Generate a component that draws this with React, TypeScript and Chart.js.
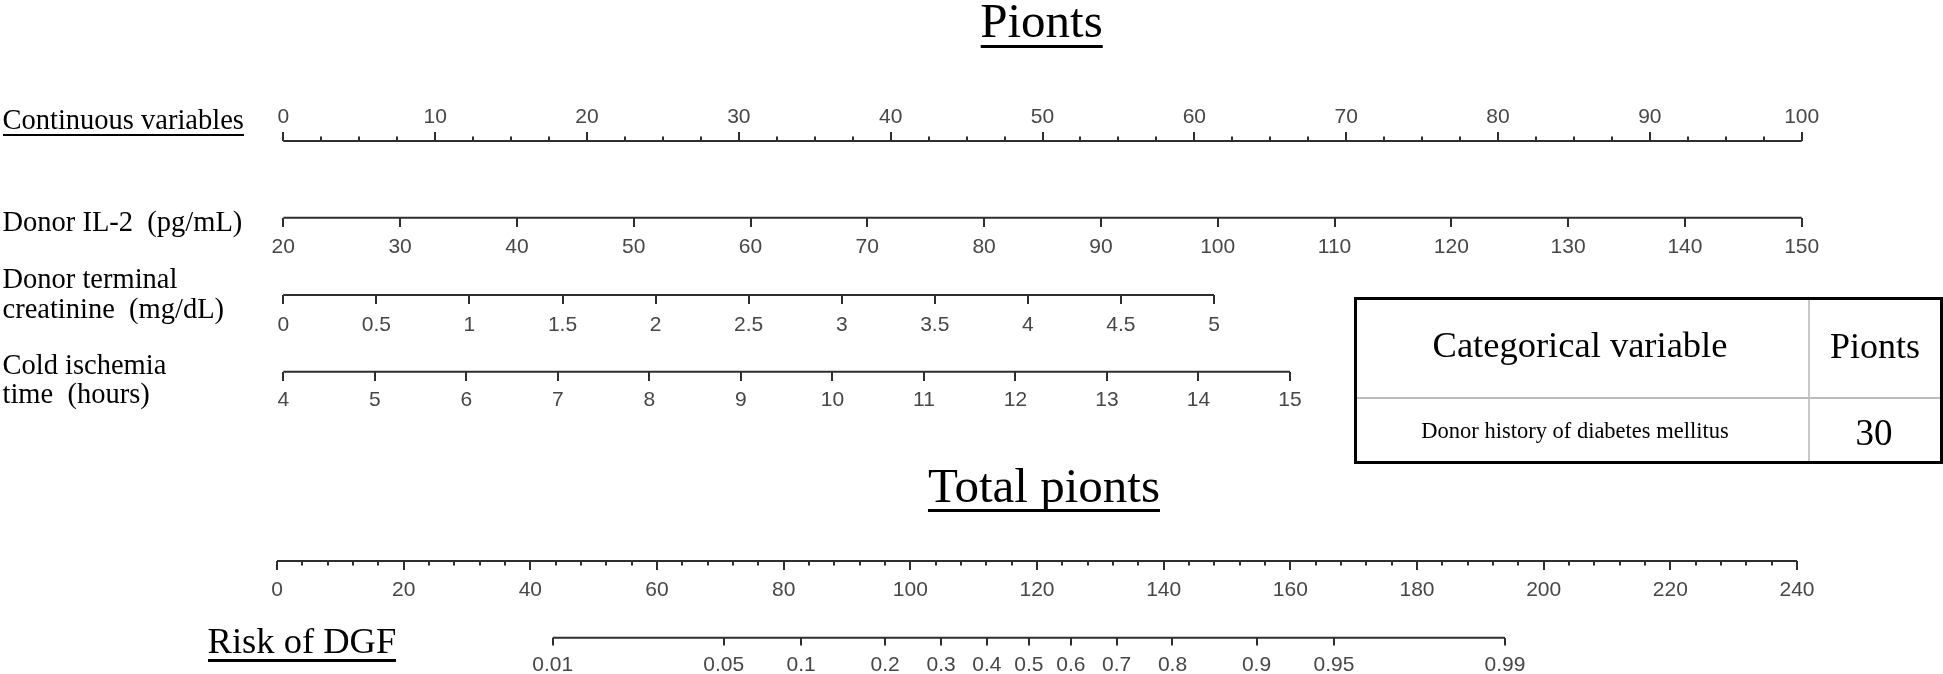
import React, { useEffect, useRef } from 'react';
import { Chart, registerables } from 'chart.js';

Chart.register(...registerables);

// ---------------- data ----------------
const pointsMajorTicks = [0, 10, 20, 30, 40, 50, 60, 70, 80, 90, 100];
const pointsMinorTicks = [0, 2.5, 5, 7.5, 10, 12.5, 15, 17.5, 20, 22.5, 25, 27.5, 30, 32.5, 35, 37.5, 40, 42.5, 45, 47.5, 50, 52.5, 55, 57.5, 60, 62.5, 65, 67.5, 70, 72.5, 75, 77.5, 80, 82.5, 85, 87.5, 90, 92.5, 95, 97.5, 100];
const il2Ticks = [20, 30, 40, 50, 60, 70, 80, 90, 100, 110, 120, 130, 140, 150];
const creatinineTicks = [0, 0.5, 1, 1.5, 2, 2.5, 3, 3.5, 4, 4.5, 5];
const coldIschemiaTicks = [4, 5, 6, 7, 8, 9, 10, 11, 12, 13, 14, 15];
const totalMajorTicks = [0, 20, 40, 60, 80, 100, 120, 140, 160, 180, 200, 220, 240];
const totalMinorTicks = [0, 4, 8, 12, 16, 20, 24, 28, 32, 36, 40, 44, 48, 52, 56, 60, 64, 68, 72, 76, 80, 84, 88, 92, 96, 100, 104, 108, 112, 116, 120, 124, 128, 132, 136, 140, 144, 148, 152, 156, 160, 164, 168, 172, 176, 180, 184, 188, 192, 196, 200, 204, 208, 212, 216, 220, 224, 228, 232, 236, 240];
const riskTicks = [0.01, 0.05, 0.1, 0.2, 0.3, 0.4, 0.5, 0.6, 0.7, 0.8, 0.9, 0.95, 0.99];
const riskLabels = ['0.01', '0.05', '0.1', '0.2', '0.3', '0.4', '0.5', '0.6', '0.7', '0.8', '0.9', '0.95', '0.99'];
const categoricalHeader = ['Categorical variable', 'Pionts'];
const categoricalName = 'Donor history of diabetes mellitus';
const categoricalPoints = '30';

// ---------------- layout / style ----------------
const W = 1943;
const H = 674;
const AREA_L = 270;
const AREA_R = 1810;
const LINE = '#2e2e2e';
const LABEL = '#474747';
const SANS = "'Liberation Sans', Arial, sans-serif";
const SERIF = "'Liberation Serif', 'Times New Roman', serif";
const ASC = 0.8375;

const logit = (p: number) => Math.log(p / (1 - p));

type AxisDef = {
  id: string;
  rowY: number;
  anchor: [number, number];
  px: [number, number];
  ticks: number[];
  labels: string[] | null;
  tickLen: number;
  pad: number;
  line: boolean;
};

function buildAxes(): AxisDef[] {
  return [
    { id: 'xPoints', rowY: 141, anchor: [0, 100], px: [283.3, 1801.7], ticks: pointsMajorTicks, labels: pointsMajorTicks.map(String), tickLen: -9, pad: -25.5, line: true },
    { id: 'xPointsMinor', rowY: 141, anchor: [0, 100], px: [283.3, 1801.7], ticks: pointsMinorTicks, labels: null, tickLen: -4.5, pad: 0, line: false },
    { id: 'xIL2', rowY: 217.7, anchor: [20, 150], px: [283.3, 1801.7], ticks: il2Ticks, labels: il2Ticks.map(String), tickLen: 9, pad: 10, line: true },
    { id: 'xCreat', rowY: 295, anchor: [0, 5], px: [283.3, 1214], ticks: creatinineTicks, labels: creatinineTicks.map(String), tickLen: 9, pad: 11, line: true },
    { id: 'xCold', rowY: 371.7, anchor: [4, 15], px: [283.3, 1290], ticks: coldIschemiaTicks, labels: coldIschemiaTicks.map(String), tickLen: 9, pad: 8.6, line: true },
    { id: 'xTotal', rowY: 561, anchor: [0, 240], px: [277, 1797], ticks: totalMajorTicks, labels: totalMajorTicks.map(String), tickLen: 9, pad: 9.3, line: true },
    { id: 'xTotalMinor', rowY: 561, anchor: [0, 240], px: [277, 1797], ticks: totalMinorTicks, labels: null, tickLen: 4.5, pad: 0, line: false },
    { id: 'xRisk', rowY: 637.7, anchor: [logit(0.01), logit(0.99)], px: [552.7, 1505], ticks: riskTicks.map(logit), labels: riskLabels, tickLen: 7.5, pad: 9.8, line: true },
  ];
}

type LabelProps = {
  x: number;
  base: number;
  size: number;
  text: string;
  center?: boolean;
  ul?: { y: number; t: number };
};

function Label({ x, base, size, text, center, ul }: LabelProps) {
  const top = base - ASC * size;
  return (
    <div
      style={{
        position: 'absolute',
        left: x,
        top,
        fontFamily: SERIF,
        fontSize: size,
        lineHeight: `${size}px`,
        whiteSpace: 'pre',
        color: '#000',
        transform: center ? 'translateX(-50%)' : undefined,
      }}
    >
      {text}
      {ul && (
        <div
          style={{
            position: 'absolute',
            left: 0,
            right: 0,
            top: ul.y - top - ul.t / 2,
            height: ul.t,
            background: '#000',
          }}
        />
      )}
    </div>
  );
}

export default function App() {
  const ref = useRef<HTMLCanvasElement>(null);

  useEffect(() => {
    const canvas = ref.current;
    if (!canvas) return;
    const axes = buildAxes();
    const scales: any = {
      y: { type: 'linear', min: 0, max: H, reverse: true, display: false },
    };
    const datasets: any[] = [];
    for (const a of axes) {
      const k = (a.px[1] - a.px[0]) / (a.anchor[1] - a.anchor[0]);
      const min = a.anchor[0] - (a.px[0] - AREA_L) / k;
      const max = a.anchor[0] + (AREA_R - a.px[0]) / k;
      const vals = a.ticks;
      const labs = a.labels;
      scales[a.id] = {
        type: 'linear',
        axis: 'x',
        position: { y: a.rowY },
        min,
        max,
        display: true,
        offset: false,
        border: { display: false },
        grid: {
          display: true,
          drawOnChartArea: false,
          drawTicks: true,
          tickLength: a.tickLen,
          tickWidth: 2,
          tickColor: LINE,
          lineWidth: 2,
          color: LINE,
        },
        ticks: {
          display: !!labs,
          autoSkip: false,
          maxRotation: 0,
          minRotation: 0,
          padding: a.pad,
          color: LABEL,
          font: { family: SANS, size: 21, lineHeight: 1 },
          callback: (_v: any, i: number) => (labs ? labs[i] : ''),
        },
        afterBuildTicks: (s: any) => {
          s.ticks = vals.map((v) => ({ value: v }));
        },
      };
      if (a.line) {
        datasets.push({
          data: [
            { x: a.anchor[0], y: a.rowY },
            { x: a.anchor[1], y: a.rowY },
          ],
          xAxisID: a.id,
          yAxisID: 'y',
          showLine: true,
          borderColor: LINE,
          borderWidth: 2,
          pointRadius: 0,
          pointHoverRadius: 0,
          clip: false,
        });
      }
    }

    const chart = new Chart(canvas, {
      type: 'scatter',
      data: { datasets },
      options: {
        animation: false,
        responsive: false,
        devicePixelRatio: 1,
        events: [],
        layout: { padding: { left: AREA_L, right: W - AREA_R, top: 0, bottom: 0 } },
        plugins: { legend: { display: false }, tooltip: { enabled: false }, title: { display: false } },
        scales,
      } as any,
    });
    return () => chart.destroy();
  }, []);

  return (
    <div style={{ position: 'absolute', left: 0, top: 0, width: W, height: H, background: '#fff', overflow: 'hidden' }}>
      <canvas ref={ref} width={W} height={H} style={{ position: 'absolute', left: 0, top: 0, width: W, height: H }} />

      <Label x={1041.5} base={36.7} size={49} text="Pionts" center ul={{ y: 46.7, t: 3 }} />
      <Label x={2.5} base={130} size={28.5} text="Continuous variables" ul={{ y: 135, t: 2.5 }} />
      <Label x={2.5} base={232} size={28.5} text="Donor IL-2  (pg/mL)" />
      <Label x={2.5} base={289} size={28.5} text="Donor terminal" />
      <Label x={2.5} base={319} size={28.5} text="creatinine  (mg/dL)" />
      <Label x={2.5} base={375} size={28.5} text="Cold ischemia" />
      <Label x={2.5} base={404} size={28.5} text="time  (hours)" />

      <div
        style={{
          position: 'absolute',
          left: 1354,
          top: 297,
          width: W - 1354,
          height: 167,
          border: '3px solid #000',
          boxSizing: 'border-box',
        }}
      >
        <div style={{ position: 'absolute', left: 1808 - 1354 - 3, top: 0, bottom: 0, width: 1.5, background: '#c8c8c8' }} />
        <div style={{ position: 'absolute', left: 0, right: 0, top: 398 - 297 - 4, height: 2, background: '#bdbdbd' }} />
      </div>
      <Label x={1580} base={358} size={36.5} text={categoricalHeader[0]} center />
      <Label x={1875} base={358} size={36} text={categoricalHeader[1]} center />
      <Label x={1575} base={439} size={22.5} text={categoricalName} center />
      <Label x={1874} base={445} size={37} text={categoricalPoints} center />

      <Label x={1044} base={501.7} size={49} text="Total pionts" center ul={{ y: 511, t: 3 }} />
      <Label x={207.6} base={653.3} size={36.5} text="Risk of DGF" ul={{ y: 660.7, t: 3 }} />
    </div>
  );
}
